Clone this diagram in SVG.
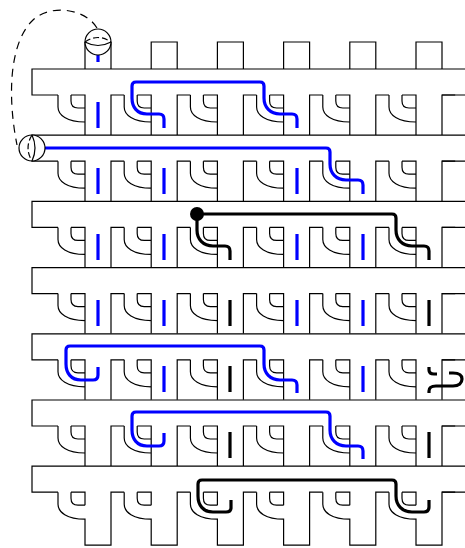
<svg xmlns="http://www.w3.org/2000/svg" width="465" height="548" viewBox="0 0 465 548">
<style>
.o{fill:none;stroke:#000;stroke-width:1.2}
.d{stroke-dasharray:6 3}
.b,.k{fill:none;stroke-width:3.2;stroke-linecap:butt;stroke-linejoin:round}
.b{stroke:#0000ff}.k{stroke:#000}
</style>
<defs>
<path id="cell" class="o" d="M26 26V38C26 46 35 53 53 53M39 26H53V66M39 26V32Q39 39 46 39H53M79 66V26H92.2"/>
<path id="cellLast" class="o" d="M26 26V38C26 46 35 53 53 53V79H79V26H92.2M39 26H53V39M39 26V32Q39 39 46 39H53"/>
<g id="row"><use href="#cell" x="32"/><use href="#cell" x="98.2"/><use href="#cell" x="164.4"/><use href="#cell" x="230.6"/><use href="#cell" x="296.8"/><use href="#cell" x="363"/><path class="o" d="M465 0H32V26H58M442 26H465"/></g>
<g id="rowLast"><use href="#cellLast" x="32"/><use href="#cellLast" x="98.2"/><use href="#cellLast" x="164.4"/><use href="#cellLast" x="230.6"/><use href="#cellLast" x="296.8"/><use href="#cellLast" x="363"/><path class="o" d="M465 0H32V26H58M442 26H465"/></g>
<path id="v" d="M0 0V26"/>
</defs>
<g id="frame">
<use href="#row" y="69"/><use href="#row" y="135.2"/><use href="#row" y="201.4"/><use href="#row" y="267.6"/><use href="#row" y="333.8"/><use href="#row" y="400"/><use href="#rowLast" y="466.2"/>
<path class="o" d="M85 69V42M111 69V42M151.2 69V42H177.2V69M217.4 69V42H243.4V69M283.6 69V42H309.6V69M349.8 69V42H375.8V69M416 69V42H442V69"/>
</g>
<g id="connectors">
<path class="o" stroke-dasharray="8 6" d="M97 28C85 8 50 4 33 20C8 44 8 100 17 145"/>
<g class="b">
<path d="M98 55V62"/>
<use href="#v" x="98" y="102"/>
<path d="M164 128V119Q164 114 159 114H147C137 114 132 107 132 98V86Q132 82 136 82H260Q264 82 264 86V98C264 107 270 114 280 114H292Q297 114 297 119V128"/>
<path d="M45 148H326Q330 148 330 152V164C330 173 336 180 346 180H358Q363 180 363 185V194"/>
<use href="#v" x="98" y="168"/><use href="#v" x="164" y="168"/><use href="#v" x="297" y="168"/>
<use href="#v" x="98" y="234"/><use href="#v" x="164" y="234"/><use href="#v" x="297" y="234"/><use href="#v" x="363" y="234"/>
<use href="#v" x="98" y="300"/><use href="#v" x="164" y="300"/><use href="#v" x="297" y="300"/><use href="#v" x="363" y="300"/>
<path d="M98 367V375Q98 380 93 380H81C71 380 66 373 66 364V350Q66 346 70 346H260Q264 346 264 350V364C264 373 270 380 280 380H292Q297 380 297 385V393"/>
<use href="#v" x="164" y="366"/><use href="#v" x="363" y="366"/>
<path d="M164 433V441Q164 446 159 446H147C137 446 132 439 132 430V416Q132 412 136 412H326Q330 412 330 416V430C330 439 336 446 346 446H358Q363 446 363 451V459"/>
</g>
<g class="k">
<path d="M197 214V230C197 239 203 246 213 246H225Q230 246 230 251V260M197 214H392Q396 214 396 218V230C396 239 402 246 412 246H424Q429 246 429 251V260"/>
<use href="#v" x="230" y="300"/><use href="#v" x="429" y="300"/>
<use href="#v" x="230" y="366"/><use href="#v" x="230" y="432"/><use href="#v" x="429" y="432"/>
<path d="M429 367V370Q429 374 434 374H437"/>
<path d="M429 393V391Q429 386 436 386H453C459 386 462 383 462 379C462 375 459 373 453 373H449"/>
<path d="M231 500V508Q231 512 226 512H213C203 512 198 505 198 496V484Q198 480 202 480H392Q396 480 396 484V496C396 505 402 512 412 512H424Q429 512 429 507V500"/>
</g>
</g>
<circle id="dot" cx="197" cy="214" r="7"/>
<g id="top-lens">
<circle cx="98" cy="42" r="13" fill="#fff" stroke="#000" stroke-width="1.2"/>
<path class="o" d="M85 42Q98 49 111 42"/>
<path class="o d" d="M85 42Q98 33 111 42"/>
</g>
<g id="left-lens">
<circle cx="32" cy="148" r="13" fill="#fff" stroke="#000" stroke-width="1.2"/>
<path class="o" d="M32 135Q38 148 32 161"/>
<path class="o d" d="M32 135Q24 148 32 161"/>
</g>
</svg>
